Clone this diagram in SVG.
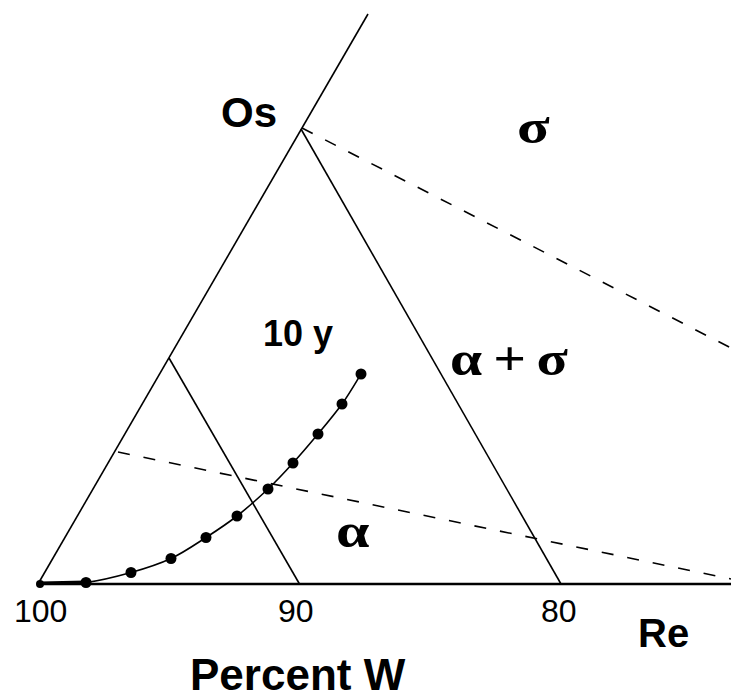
<svg xmlns="http://www.w3.org/2000/svg" width="731" height="699" viewBox="0 0 731 699">
<style>
.ln{stroke:#000;stroke-width:1.6;fill:none}
.ds{stroke:#000;stroke-width:1.6;fill:none;stroke-dasharray:12 14}
.sb{font-family:"Liberation Sans",Arial,sans-serif;font-weight:bold;fill:#000}
.sn{font-family:"Liberation Sans",Arial,sans-serif;fill:#000}
.gr{font-family:"Liberation Serif","Times New Roman",serif;font-weight:bold;fill:#000;font-size:48px}
.dot{fill:#000}
</style>
<rect width="731" height="699" fill="#fff"/>
<g id="axes">
<line class="ln" x1="38" y1="584" x2="731" y2="584" style="stroke-width:2.5"/>
<line class="ln" x1="38" y1="584" x2="368" y2="14"/>
<line class="ln" x1="169" y1="358" x2="299.5" y2="584"/>
<line class="ln" x1="301" y1="129" x2="561" y2="584"/>
</g>
<g id="boundaries">
<line class="ds" x1="302" y1="128" x2="731" y2="348"/>
<line class="ds" x1="118" y1="452" x2="731" y2="579"/>
</g>
<g id="path10y">
<line class="ln" x1="40" y1="583" x2="86" y2="582" style="stroke-width:3"/>
<path class="ln" d="M40,584 C47.7,583.75 70.8,584.4 86,582.5 C101.2,580.6 116.8,576.5 131,572.5 C145.2,568.5 158.5,564.3 171,558.5 C183.5,552.7 195,544.6 206,537.5 C217,530.4 226.7,524.1 237,516 C247.3,507.9 258.7,497.8 268,489 C277.3,480.2 284.7,472.2 293,463 C301.3,453.8 309.8,443.8 318,434 C326.2,424.2 334.8,414 342,404 C349.2,394 357.8,379 361,374"/>
<circle class="dot" cx="40" cy="584" r="4"/>
<circle class="dot" cx="86" cy="582.5" r="5.5"/>
<circle class="dot" cx="131" cy="572.5" r="5.5"/>
<circle class="dot" cx="171" cy="558.5" r="5.5"/>
<circle class="dot" cx="206" cy="537.5" r="5.5"/>
<circle class="dot" cx="237" cy="516" r="5.5"/>
<circle class="dot" cx="268" cy="489" r="5.5"/>
<circle class="dot" cx="293" cy="463" r="5.5"/>
<circle class="dot" cx="318" cy="434" r="5.5"/>
<circle class="dot" cx="342" cy="404" r="5.5"/>
<circle class="dot" cx="361" cy="374" r="5.5"/>
</g>
<g id="labels">
<text class="sb" x="221" y="127" font-size="42">Os</text>
<text class="gr" transform="translate(517,143) scale(1.25,1)">σ</text>
<text class="sb" x="263" y="346" font-size="36">10 y</text>
<text class="gr" transform="translate(450,375) scale(1.2,1)"><tspan x="0">α</tspan><tspan x="36">+</tspan><tspan x="72">σ</tspan></text>
<text class="gr" transform="translate(336,547) scale(1.25,1)">α</text>
<text class="sn" x="14" y="622" font-size="32">100</text>
<text class="sn" x="278" y="622" font-size="32">90</text>
<text class="sn" x="541" y="622" font-size="32">80</text>
<text class="sb" x="638" y="647" font-size="40">Re</text>
<text class="sb" x="190" y="690" font-size="44">Percent W</text>
</g>
</svg>
